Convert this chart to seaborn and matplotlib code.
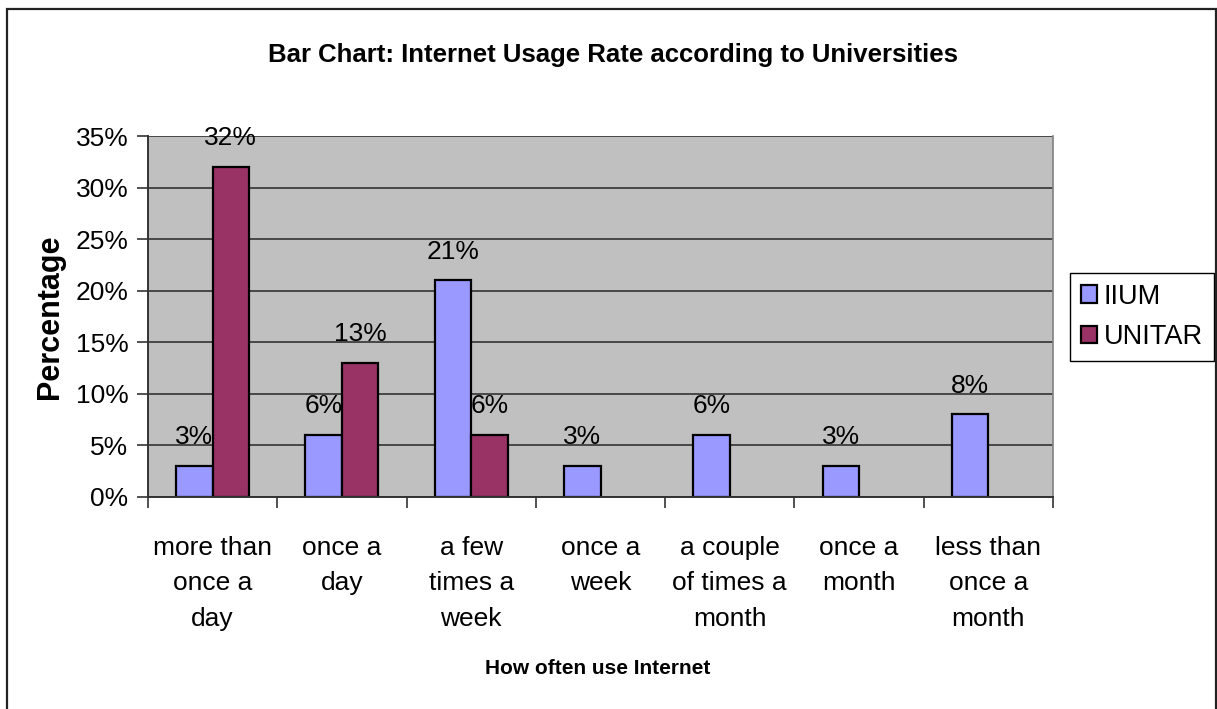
import matplotlib
matplotlib.use("Agg")
import matplotlib.pyplot as plt
import seaborn as sns
import pandas as pd
from matplotlib.patches import Rectangle
from matplotlib.ticker import FuncFormatter

categories = ["more than\nonce a\nday", "once a\nday", "a few\ntimes a\nweek", "once a\nweek",
              "a couple\nof times a\nmonth", "once a\nmonth", "less than\nonce a\nmonth"]
series_names = ["IIUM", "UNITAR"]
iium = [3, 6, 21, 3, 6, 3, 8]
unitar = [32, 13, 6, 0, 0, 0, 0]
yticks = [0, 5, 10, 15, 20, 25, 30, 35]

sns.set_theme(style="white")
plt.rcParams["font.family"] = ["Liberation Sans", "DejaVu Sans"]
for k in ["text.color", "axes.labelcolor", "xtick.color", "ytick.color"]:
    plt.rcParams[k] = "black"

W, H = 1217, 709
fig = plt.figure(figsize=(W / 100, H / 100), dpi=100)
ax = fig.add_axes([148 / W, (H - 497) / H, (1053 - 148) / W, (497 - 136) / H])

df = pd.DataFrame({
    "cat": categories * 2,
    "uni": [series_names[0]] * len(categories) + [series_names[1]] * len(categories),
    "val": iium + unitar,
})
palette = {"IIUM": "#9999FF", "UNITAR": "#993366"}
sns.barplot(data=df, x="cat", y="val", hue="uni", palette=palette, width=0.565,
            edgecolor="black", linewidth=1.6, saturation=1, ax=ax, legend=True)

ax.set_facecolor("#C0C0C0")
ax.set_ylim(0, 35)
ax.set_xlim(-0.5, len(categories) - 0.5)
ax.set_yticks(yticks)
ax.yaxis.set_major_formatter(FuncFormatter(lambda v, p: f"{int(v)}%"))
ax.yaxis.grid(True, color="#333333", linewidth=1.2)
ax.set_axisbelow(True)

# x ticks at boundaries, labels at centers
ax.set_xticks([i - 0.5 for i in range(len(categories) + 1)])
ax.set_xticklabels([""] * (len(categories) + 1))
ax.set_xticks(range(len(categories)), minor=True)
ax.set_xticklabels(categories, minor=True, fontsize=19, linespacing=1.6)
ax.tick_params(axis="x", which="major", direction="out", length=8, width=1.2, color="#333333", bottom=True)
ax.tick_params(axis="x", which="minor", length=0, pad=28)
ax.tick_params(axis="y", direction="out", length=8, width=1.2, color="#333333", labelsize=19, left=True, pad=6)

for s in ["left", "bottom"]:
    ax.spines[s].set_color("#333333")
    ax.spines[s].set_linewidth(1.4)
ax.spines["right"].set_color("#808080")
ax.spines["right"].set_linewidth(1.2)
ax.spines["top"].set_visible(False)

for cont, vals in zip(ax.containers, [iium, unitar]):
    for bar, v in zip(cont, vals):
        if v == 0:
            bar.set_linewidth(0)
    ax.bar_label(cont, labels=[f"{v}%" if v else "" for v in vals], padding=12, fontsize=19)

ax.set_xlabel("")
ax.set_ylabel("")
fig.text(50 / W, 1 - 317 / H, "Percentage", rotation=90, ha="center", va="center",
         fontsize=22, fontweight="bold")
fig.text(598 / W, 1 - 668 / H, "How often use Internet", ha="center", va="center",
         fontsize=15, fontweight="bold")
fig.text(613 / W, 1 - 55 / H, "Bar Chart: Internet Usage Rate according to Universities",
         ha="center", va="center", fontsize=18.5, fontweight="bold")

handles, labels = ax.get_legend_handles_labels()
leg = ax.legend(handles, labels, loc="center left", bbox_to_anchor=(1070 / W, 1 - 317 / H),
                bbox_transform=fig.transFigure, fontsize=19.5, frameon=True, fancybox=False,
                edgecolor="black", framealpha=1, handlelength=0.6, handleheight=0.6,
                handletextpad=0.25, labelspacing=0.55, borderpad=0.4, borderaxespad=0)
leg.get_frame().set_linewidth(1.0)

fig.patches.append(Rectangle((7 / W, -0.1), (1215.5 - 7) / W, 1.1 - 8.5 / H,
                             transform=fig.transFigure, fill=False, edgecolor="#222222",
                             linewidth=1.6))

fig.savefig("out.png", dpi=100, facecolor="white")
